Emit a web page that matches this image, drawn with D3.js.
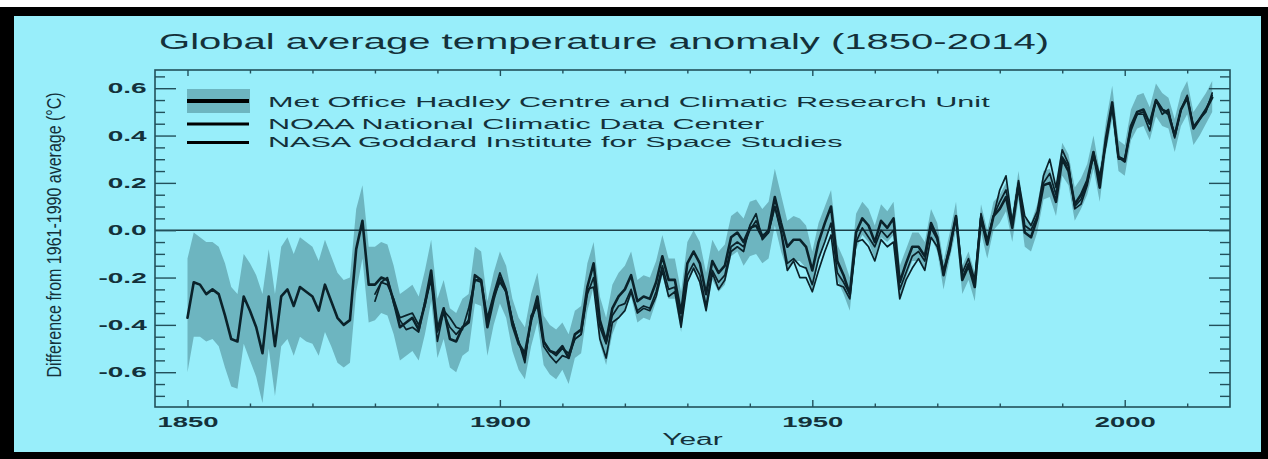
<!DOCTYPE html>
<html>
<head>
<meta charset="utf-8">
<script src="https://cdn.jsdelivr.net/npm/d3@7"></script>
<style>
  html, body { margin: 0; padding: 0; background: #ffffff; }
  svg { display: block; }
  text { font-family: "Liberation Sans", Arial, Helvetica, sans-serif; }
</style>
</head>
<body>
<svg id="chart" width="1268" height="459"></svg>
<script>
// ---------------------------------------------------------------
// Annual global mean temperature anomalies, relative to 1961-1990 (°C)
// ---------------------------------------------------------------
const hadStart = 1850;   // Met Office Hadley Centre / CRU series
const otherStart = 1880; // NOAA and NASA series

const hadcrut = [
  -0.37,-0.22,-0.23,-0.27,-0.25,-0.27,-0.36,-0.46,-0.47,-0.28,
  -0.34,-0.41,-0.52,-0.28,-0.49,-0.28,-0.25,-0.32,-0.24,-0.26,
  -0.28,-0.34,-0.23,-0.30,-0.37,-0.40,-0.38,-0.08, 0.04,-0.23,
  -0.23,-0.20,-0.21,-0.30,-0.41,-0.39,-0.37,-0.42,-0.31,-0.17,
  -0.42,-0.33,-0.46,-0.47,-0.41,-0.39,-0.19,-0.21,-0.41,-0.29,
  -0.20,-0.26,-0.40,-0.48,-0.52,-0.38,-0.28,-0.47,-0.51,-0.52,
  -0.49,-0.54,-0.44,-0.42,-0.24,-0.14,-0.38,-0.47,-0.33,-0.28,
  -0.25,-0.19,-0.30,-0.28,-0.29,-0.22,-0.11,-0.21,-0.21,-0.35,
  -0.14,-0.09,-0.14,-0.27,-0.13,-0.18,-0.15,-0.03,-0.01,-0.05,
   0.01, 0.02,-0.03, 0.00, 0.14, 0.03,-0.07,-0.04,-0.04,-0.07,
  -0.17,-0.05, 0.03, 0.10,-0.13,-0.19,-0.27,-0.01, 0.05, 0.02,
  -0.05, 0.04, 0.01, 0.05,-0.22,-0.14,-0.07,-0.07,-0.11, 0.03,
  -0.03,-0.19,-0.07, 0.06,-0.21,-0.15,-0.24, 0.05,-0.06, 0.06,
   0.09, 0.14, 0.01, 0.19,-0.01,-0.03, 0.05, 0.19, 0.20, 0.12,
   0.30, 0.25, 0.11, 0.15, 0.21, 0.33, 0.18, 0.39, 0.54, 0.31,
   0.29, 0.44, 0.50, 0.51, 0.45, 0.55, 0.51, 0.49, 0.40, 0.51,
   0.56, 0.43, 0.47, 0.51, 0.56
];

// 95% uncertainty range of the Hadley Centre / CRU series
const hadcrutLower = [
  -0.60,-0.45,-0.45,-0.47,-0.46,-0.49,-0.58,-0.66,-0.67,-0.48,
  -0.55,-0.62,-0.73,-0.50,-0.70,-0.49,-0.46,-0.53,-0.45,-0.47,
  -0.48,-0.53,-0.43,-0.49,-0.56,-0.58,-0.56,-0.26,-0.12,-0.39,
  -0.38,-0.35,-0.36,-0.44,-0.55,-0.53,-0.51,-0.55,-0.44,-0.30,
  -0.54,-0.46,-0.58,-0.60,-0.53,-0.51,-0.31,-0.32,-0.53,-0.40,
  -0.31,-0.37,-0.51,-0.59,-0.63,-0.49,-0.39,-0.57,-0.61,-0.63,
  -0.59,-0.65,-0.54,-0.52,-0.34,-0.24,-0.48,-0.57,-0.44,-0.37,
  -0.34,-0.28,-0.39,-0.37,-0.38,-0.30,-0.19,-0.29,-0.29,-0.43,
  -0.22,-0.17,-0.22,-0.35,-0.21,-0.26,-0.23,-0.11,-0.09,-0.15,
  -0.11,-0.10,-0.14,-0.12, 0.02,-0.09,-0.17,-0.13,-0.13,-0.16,
  -0.26,-0.13,-0.05, 0.02,-0.21,-0.27,-0.34,-0.08,-0.02,-0.05,
  -0.12,-0.03,-0.05,-0.02,-0.29,-0.20,-0.13,-0.13,-0.17,-0.03,
  -0.09,-0.25,-0.12, 0.00,-0.27,-0.21,-0.30,-0.01,-0.12, 0.00,
   0.03, 0.08,-0.05, 0.13,-0.07,-0.09,-0.01, 0.13, 0.14, 0.06,
   0.23, 0.19, 0.04, 0.09, 0.15, 0.26, 0.12, 0.33, 0.47, 0.25,
   0.23, 0.38, 0.43, 0.44, 0.38, 0.48, 0.44, 0.43, 0.33, 0.44,
   0.49, 0.36, 0.40, 0.45, 0.50
];
const hadcrutUpper = [
  -0.12,-0.01,-0.03,-0.05,-0.05,-0.07,-0.14,-0.24,-0.27,-0.10,
  -0.14,-0.19,-0.27,-0.08,-0.27,-0.07,-0.03,-0.10,-0.03,-0.05,
  -0.07,-0.13,-0.04,-0.11,-0.18,-0.21,-0.20, 0.09, 0.19,-0.07,
  -0.07,-0.05,-0.06,-0.15,-0.27,-0.25,-0.23,-0.28,-0.17,-0.04,
  -0.29,-0.21,-0.33,-0.35,-0.29,-0.27,-0.07,-0.09,-0.30,-0.18,
  -0.09,-0.15,-0.29,-0.37,-0.41,-0.27,-0.18,-0.36,-0.40,-0.42,
  -0.39,-0.44,-0.34,-0.32,-0.14,-0.05,-0.28,-0.37,-0.23,-0.18,
  -0.15,-0.09,-0.21,-0.19,-0.20,-0.13,-0.02,-0.12,-0.12,-0.26,
  -0.05, 0.00,-0.05,-0.18,-0.04,-0.09,-0.06, 0.06, 0.08, 0.05,
   0.12, 0.13, 0.09, 0.12, 0.26, 0.15, 0.04, 0.06, 0.05, 0.02,
  -0.09, 0.03, 0.10, 0.17,-0.06,-0.12,-0.20, 0.07, 0.12, 0.09,
   0.02, 0.11, 0.08, 0.12,-0.15,-0.08,-0.01,-0.01,-0.05, 0.09,
   0.03,-0.13,-0.01, 0.12,-0.15,-0.09,-0.18, 0.11, 0.00, 0.12,
   0.15, 0.20, 0.07, 0.25, 0.05, 0.03, 0.11, 0.25, 0.26, 0.18,
   0.37, 0.32, 0.18, 0.22, 0.28, 0.40, 0.25, 0.46, 0.61, 0.38,
   0.36, 0.51, 0.57, 0.58, 0.52, 0.62, 0.58, 0.56, 0.47, 0.58,
   0.63, 0.50, 0.54, 0.58, 0.63
];

const noaa = [
  -0.27,-0.22,-0.23,-0.29,-0.37,-0.36,-0.35,-0.40,-0.32,-0.20,
  -0.43,-0.35,-0.41,-0.44,-0.41,-0.38,-0.21,-0.22,-0.39,-0.28,
  -0.22,-0.26,-0.38,-0.47,-0.54,-0.38,-0.31,-0.47,-0.51,-0.53,
  -0.50,-0.52,-0.46,-0.44,-0.27,-0.20,-0.41,-0.48,-0.36,-0.32,
  -0.31,-0.25,-0.34,-0.32,-0.33,-0.26,-0.15,-0.25,-0.24,-0.39,
  -0.19,-0.14,-0.19,-0.32,-0.17,-0.22,-0.19,-0.07,-0.05,-0.07,
   0.00, 0.04,-0.02,-0.01, 0.10, 0.00,-0.14,-0.12,-0.15,-0.16,
  -0.23,-0.12,-0.05, 0.03,-0.18,-0.22,-0.27,-0.05, 0.01,-0.03,
  -0.07, 0.00,-0.03, 0.00,-0.25,-0.18,-0.11,-0.09,-0.13, 0.01,
  -0.04,-0.17,-0.07, 0.06,-0.20,-0.14,-0.23, 0.06,-0.05, 0.06,
   0.12, 0.17, 0.03, 0.20, 0.02, 0.00, 0.06, 0.20, 0.24, 0.15,
   0.31, 0.27, 0.10, 0.13, 0.20, 0.31, 0.21, 0.38, 0.53, 0.31,
   0.30, 0.44, 0.49, 0.50, 0.45, 0.55, 0.51, 0.50, 0.40, 0.51,
   0.57, 0.43, 0.47, 0.51, 0.57
];

const nasa = [
  -0.30,-0.22,-0.20,-0.31,-0.38,-0.42,-0.41,-0.43,-0.30,-0.21,
  -0.47,-0.34,-0.37,-0.41,-0.42,-0.33,-0.21,-0.21,-0.37,-0.27,
  -0.18,-0.25,-0.38,-0.47,-0.56,-0.36,-0.32,-0.49,-0.53,-0.56,
  -0.53,-0.54,-0.46,-0.44,-0.25,-0.24,-0.46,-0.54,-0.39,-0.37,
  -0.34,-0.26,-0.35,-0.33,-0.34,-0.28,-0.17,-0.28,-0.26,-0.41,
  -0.22,-0.16,-0.22,-0.34,-0.18,-0.25,-0.21,-0.09,-0.07,-0.09,
   0.02, 0.07,-0.04,-0.01, 0.10,-0.01,-0.17,-0.13,-0.20,-0.20,
  -0.26,-0.17,-0.09,-0.02,-0.23,-0.24,-0.29,-0.05,-0.04,-0.07,
  -0.13,-0.04,-0.07,-0.05,-0.29,-0.21,-0.16,-0.12,-0.17,-0.03,
  -0.07,-0.18,-0.09, 0.06,-0.18,-0.12,-0.21, 0.07,-0.04, 0.06,
   0.17, 0.23, 0.03, 0.21, 0.06, 0.02, 0.08, 0.23, 0.30, 0.18,
   0.34, 0.28, 0.09, 0.11, 0.19, 0.33, 0.23, 0.36, 0.52, 0.30,
   0.30, 0.42, 0.49, 0.49, 0.42, 0.55, 0.49, 0.51, 0.39, 0.51,
   0.56, 0.44, 0.47, 0.50, 0.58
];

// Axis ticks and labels
const xMajorTicks = [1850, 1900, 1950, 2000];
const xTickLabels = ["1850", "1900", "1950", "2000"];
const yMajorTicks = [-0.6, -0.4, -0.2, 0.0, 0.2, 0.4, 0.6];
const yTickLabels = ["-0.6", "-0.4", "-0.2", "0.0", "0.2", "0.4", "0.6"];

const titleText = "Global average temperature anomaly (1850-2014)";
const xTitle = "Year";
const yTitle = "Difference from 1961-1990 average (\u00B0C)";
const seriesNames = [
  "Met Office Hadley Centre and Climatic Research Unit",
  "NOAA National Climatic Data Center",
  "NASA Goddard Institute for Space Studies"
];

// ---------------------------------------------------------------
// Styling
// ---------------------------------------------------------------
const BG = "#98eefa";
const BAND = "#6db5c0";
const LINE = "#0b222a";
const AXIS = "#22505b";
const INK = "#14313a";

const W = 1268, H = 459;
const plot = { left: 155, right: 1230, top: 70, bottom: 407 };

const svg = d3.select("#chart");

// Page frame: thin white strip above a black mount with the cyan panel
svg.append("rect").attr("x", 0).attr("y", 0).attr("width", W).attr("height", H).attr("fill", "#ffffff");
svg.append("rect").attr("x", 0).attr("y", 7).attr("width", W).attr("height", H - 7).attr("fill", "#000000");
svg.append("rect").attr("x", 14).attr("y", 16).attr("width", 1261 - 14).attr("height", 452 - 16).attr("fill", BG);

// Scales
const x = d3.scaleLinear().domain([1844.8, 2016.85]).range([plot.left, plot.right]);
const y = d3.scaleLinear().domain([-0.747, 0.677]).range([plot.bottom, plot.top]);

svg.append("defs").append("clipPath").attr("id", "plot-clip")
  .append("rect")
  .attr("x", plot.left).attr("y", plot.top)
  .attr("width", plot.right - plot.left).attr("height", plot.bottom - plot.top);

// Build row objects for the generators
const hadRows = hadcrut.map((v, i) => ({
  year: hadStart + i, v, lo: hadcrutLower[i], hi: hadcrutUpper[i]
}));
const noaaRows = noaa.map((v, i) => ({ year: otherStart + i, v }));
const nasaRows = nasa.map((v, i) => ({ year: otherStart + i, v }));

const dataLayer = svg.append("g").attr("clip-path", "url(#plot-clip)");

// Uncertainty band
const band = d3.area()
  .x(d => x(d.year))
  .y0(d => y(d.lo))
  .y1(d => y(d.hi));
dataLayer.append("path").datum(hadRows)
  .attr("d", band)
  .attr("fill", BAND);

// Zero reference line
dataLayer.append("line")
  .attr("x1", plot.left).attr("x2", plot.right)
  .attr("y1", y(0)).attr("y2", y(0))
  .attr("stroke", "#1d3f48").attr("stroke-width", 1.4);

// Series lines
const line = d3.line().x(d => x(d.year)).y(d => y(d.v));
[[nasaRows, 1.7], [noaaRows, 1.7], [hadRows, 2.6]].forEach(([rows, w]) => {
  dataLayer.append("path").datum(rows)
    .attr("d", line)
    .attr("fill", "none")
    .attr("stroke", LINE)
    .attr("stroke-width", w)
    .attr("stroke-linejoin", "round")
    .attr("stroke-linecap", "round");
});

// ---------------------------------------------------------------
// Axes (ticks point inward on all four sides)
// ---------------------------------------------------------------
const xMinorTicks = d3.range(1850, 2011, 10).filter(v => !xMajorTicks.includes(v));
const yMinorTicks = d3.range(-14, 14).filter(k => k % 4 !== 0).map(k => k * 0.05);

function styleAxis(g) {
  g.select(".domain").remove();
  g.selectAll(".tick line").attr("stroke", AXIS).attr("stroke-width", 1.4);
}

// Bottom
svg.append("g").attr("transform", `translate(0,${plot.bottom})`)
  .call(d3.axisBottom(x).tickValues(xMinorTicks).tickSize(-3.5).tickFormat(""))
  .call(styleAxis);
const xAxisG = svg.append("g").attr("transform", `translate(0,${plot.bottom})`)
  .call(d3.axisBottom(x).tickValues(xMajorTicks).tickSize(-7).tickPadding(10)
    .tickFormat((d, i) => xTickLabels[i]))
  .call(styleAxis);
xAxisG.selectAll(".tick text")
  .attr("fill", INK)
  .attr("font-size", 14)
  .attr("font-weight", "bold")
  .attr("transform", "scale(1.96,1)");

// Top
svg.append("g").attr("transform", `translate(0,${plot.top})`)
  .call(d3.axisTop(x).tickValues(xMinorTicks).tickSize(-3.5).tickFormat(""))
  .call(styleAxis);
svg.append("g").attr("transform", `translate(0,${plot.top})`)
  .call(d3.axisTop(x).tickValues(xMajorTicks).tickSize(-6).tickFormat(""))
  .call(styleAxis);

// Left
svg.append("g").attr("transform", `translate(${plot.left},0)`)
  .call(d3.axisLeft(y).tickValues(yMinorTicks).tickSize(-10).tickFormat(""))
  .call(styleAxis);
const yAxisG = svg.append("g").attr("transform", `translate(${plot.left},0)`)
  .call(d3.axisLeft(y).tickValues(yMajorTicks).tickSize(-21)
    .tickFormat((d, i) => yTickLabels[i]))
  .call(styleAxis);
yAxisG.selectAll(".tick text")
  .attr("x", 0)
  .attr("fill", INK)
  .attr("font-size", 14)
  .attr("font-weight", "bold")
  .attr("transform", "translate(-8.3,0) scale(2.0,1)");

// Right
svg.append("g").attr("transform", `translate(${plot.right},0)`)
  .call(d3.axisRight(y).tickValues(yMinorTicks).tickSize(-10).tickFormat(""))
  .call(styleAxis);
svg.append("g").attr("transform", `translate(${plot.right},0)`)
  .call(d3.axisRight(y).tickValues(yMajorTicks).tickSize(-21).tickFormat(""))
  .call(styleAxis);

// Plot frame
svg.append("rect")
  .attr("x", plot.left).attr("y", plot.top)
  .attr("width", plot.right - plot.left).attr("height", plot.bottom - plot.top)
  .attr("fill", "none").attr("stroke", AXIS).attr("stroke-width", 1.6);

// ---------------------------------------------------------------
// Text helpers: glyphs are drawn wide, as on the printed figure
// ---------------------------------------------------------------
function wideText(str, px, py, size, sx, anchor, weight) {
  svg.append("g").attr("transform", `translate(${px},${py}) scale(${sx},1)`)
    .append("text")
    .attr("x", 0).attr("y", 0)
    .attr("font-size", size)
    .attr("font-weight", weight || "normal")
    .attr("text-anchor", anchor || "start")
    .attr("fill", INK)
    .text(str);
}

// Title
wideText(titleText, 159, 49, 22, 1.82, "start");

// X axis title
wideText(xTitle, (plot.left + plot.right) / 2, 445, 16, 1.87, "middle");

// Y axis title (rotated, glyph height stretched horizontally)
svg.append("g").attr("transform", `translate(61,235) scale(1.3,1)`)
  .append("text")
  .attr("transform", "rotate(-90)")
  .attr("text-anchor", "middle")
  .attr("font-size", 16)
  .attr("fill", INK)
  .text(yTitle);

// ---------------------------------------------------------------
// Legend
// ---------------------------------------------------------------
const legendRows = [
  { name: seriesNames[0], lineY: 101, width: 4.2, box: true, baseline: 106.8 },
  { name: seriesNames[1], lineY: 124, width: 3.0, box: false, baseline: 128.8 },
  { name: seriesNames[2], lineY: 142.6, width: 3.0, box: false, baseline: 147.3 }
];
legendRows.forEach(r => {
  if (r.box) {
    svg.append("rect").attr("x", 187).attr("y", 89).attr("width", 63).attr("height", 24)
      .attr("fill", BAND);
  }
  svg.append("line")
    .attr("x1", 187).attr("x2", 249)
    .attr("y1", r.lineY).attr("y2", r.lineY)
    .attr("stroke", "#000000").attr("stroke-width", r.width);
  wideText(r.name, 268, r.baseline, 15, 2.04, "start");
});
</script>
</body>
</html>
